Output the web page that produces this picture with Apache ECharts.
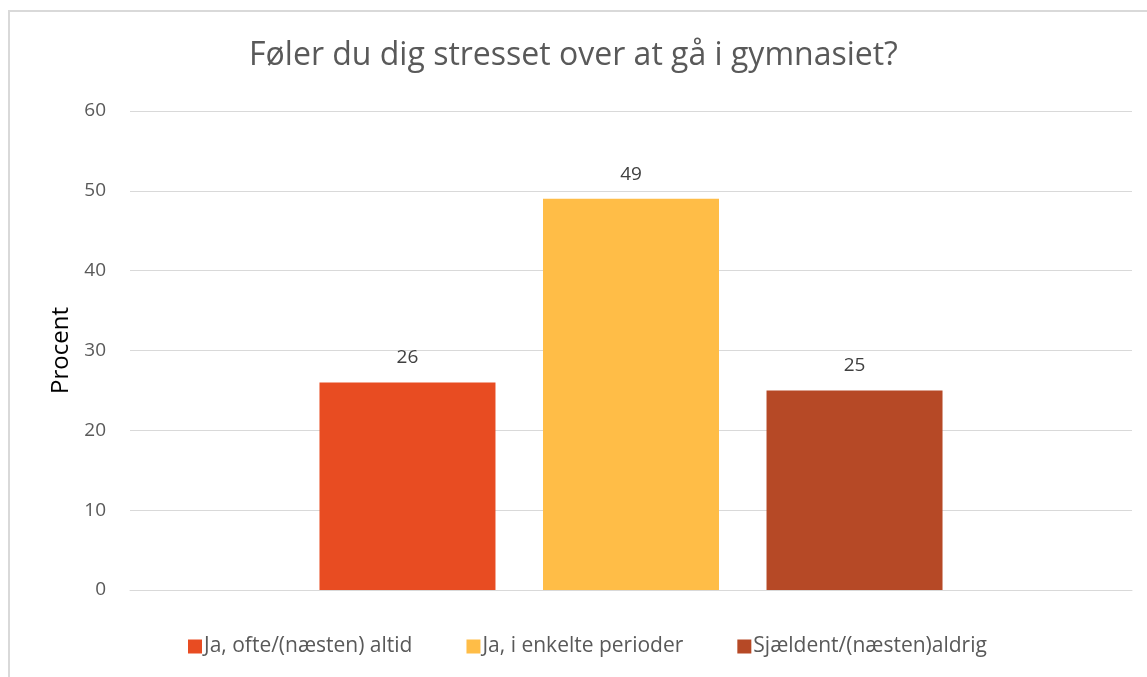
<!DOCTYPE html>
<html>
<head>
<meta charset="utf-8">
<script src="https://cdn.jsdelivr.net/npm/echarts@6/dist/echarts.min.js"></script>
<style>
html, body { margin: 0; padding: 0; background: #fff; }
#main { width: 1147px; height: 677px; }
</style>
</head>
<body>
<div id="main"></div>
<script>
var dom = document.getElementById("main");
var myChart = echarts.init(dom);

var categories = ['Føler du dig stresset over at gå i gymnasiet?'];
var seriesNames = ['Ja, ofte/(næsten) altid', 'Ja, i enkelte perioder', 'Sjældent/(næsten)aldrig'];
var seriesValues = [26, 49, 25];
var seriesColors = ['#E84C22', '#FFBD47', '#B64926'];
var yTicks = [0, 10, 20, 30, 40, 50, 60];

var font = 'Open Sans, Noto Sans, sans-serif';

var series = [];
for (var i = 0; i < seriesNames.length; i++) {
    series.push({
        name: seriesNames[i],
        type: 'bar',
        data: [seriesValues[i]],
        barWidth: 176,
        barGap: '27%',
        itemStyle: { color: seriesColors[i] },
        label: {                                  // værdi over søjlen
            show: true,
            position: 'top',
            distance: 15,
            fontFamily: font,
            fontSize: 19,
            color: '#404040'
        }
    });
}

var option = {
    title: {
        text: categories[0],
        left: 'center',
        top: 35,
        textStyle: {
            fontFamily: font,
            fontSize: 32,
            fontWeight: 'normal',
            color: '#595959'
        }
    },
    legend: {
        data: seriesNames,
        bottom: 15,
        left: 183,
        itemWidth: 14,
        itemHeight: 14,
        itemGap: 54,
        icon: 'rect',
        textStyle: { fontFamily: font, fontSize: 21, color: '#595959', padding: [0, 0, 0, -3] }
    },
    grid: { left: 130, right: 15, top: 111, bottom: 87 },
    xAxis: {
        type: 'category',
        data: categories,
        axisLine: { lineStyle: { color: '#d9d9d9', width: 1 } },
        axisTick: { show: false },
        axisLabel: { show: false }
    },
    yAxis: {
        type: 'value',
        min: yTicks[0],
        max: yTicks[yTicks.length - 1],
        interval: 10,
        name: 'Procent',
        nameLocation: 'middle',
        nameGap: 57,
        nameTextStyle: { fontFamily: font, fontSize: 24, color: '#000' },
        axisLine: { show: false },
        axisTick: { show: false },
        axisLabel: { fontFamily: font, fontSize: 19, color: '#595959', margin: 24 },
        splitLine: { lineStyle: { color: '#d9d9d9', width: 1 } }
    },
    graphic: [{
        type: 'rect',
        shape: { x: 9, y: 11, width: 1200, height: 700 },
        style: { fill: 'none', stroke: '#d9d9d9', lineWidth: 2 },
        silent: true
    }],
    series: series
};

myChart.setOption(option, true);
</script>
</body>
</html>
